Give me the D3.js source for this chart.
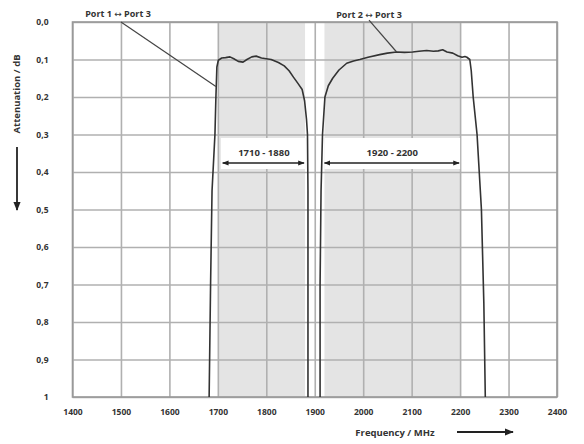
<!DOCTYPE html>
<html>
<head>
<meta charset="utf-8">
<script src="https://cdn.jsdelivr.net/npm/d3@7"></script>
<style>
  html, body { margin: 0; padding: 0; background: #fff; }
  svg { display: block; }
  text { font-family: "Open Sans", "Liberation Sans", sans-serif; fill: #333; }
</style>
</head>
<body>
<svg id="chart" width="584" height="444"></svg>
<script>
// ---- data ----
const xTicks = [1400, 1500, 1600, 1700, 1800, 1900, 2000, 2100, 2200, 2300, 2400];
const yTicks = [0, 0.1, 0.2, 0.3, 0.4, 0.5, 0.6, 0.7, 0.8, 0.9, 1];
const yTickLabels = ["0,0", "0,1", "0,2", "0,3", "0,4", "0,5", "0,6", "0,7", "0,8", "0,9", "1"];
const bandStart = [1700, 1920];
const bandEnd = [1880, 2200];
const bandLabelStart = [1710, 1920];
const bandLabelEnd = [1880, 2200];
const port13Freq = [1682, 1685, 1688, 1694, 1696, 1698, 1701, 1708, 1716, 1725, 1733, 1742, 1752, 1760, 1770, 1779, 1790, 1800, 1810, 1825, 1837, 1847, 1856, 1866, 1874, 1879, 1883, 1885, 1886, 1886, 1886];
const port13Att = [1.0, 0.7, 0.45, 0.3, 0.2, 0.12, 0.102, 0.096, 0.095, 0.093, 0.098, 0.105, 0.107, 0.1, 0.093, 0.091, 0.096, 0.098, 0.1, 0.108, 0.117, 0.13, 0.147, 0.165, 0.18, 0.21, 0.26, 0.3, 0.45, 0.7, 1.0];
const port23Freq = [1911, 1911, 1913, 1916, 1921, 1928, 1937, 1950, 1966, 1980, 1993, 2010, 2034, 2050, 2069, 2085, 2102, 2115, 2131, 2145, 2155, 2164, 2173, 2185, 2195, 2204, 2210, 2214, 2220, 2223, 2227, 2235, 2244, 2249, 2252];
const port23Att = [1.0, 0.7, 0.45, 0.3, 0.2, 0.17, 0.15, 0.128, 0.11, 0.104, 0.1, 0.094, 0.087, 0.083, 0.08, 0.081, 0.08, 0.078, 0.076, 0.078, 0.077, 0.074, 0.08, 0.083, 0.09, 0.094, 0.092, 0.094, 0.1, 0.13, 0.2, 0.3, 0.5, 0.75, 1.0];
const seriesPortA = ["Port 1", "Port 2"];
const seriesPortB = ["Port 3", "Port 3"];
// leader line anchors
const leaderFrom = [[1500, 0.0], [2012, -0.005]];
const leaderTo = [[1696, 0.172], [2069, 0.08]];

// ---- layout ----
const svg = d3.select("#chart");
const x = d3.scaleLinear().domain([1400, 2400]).range([72.5, 557]);
const y = d3.scaleLinear().domain([0, 1]).range([22, 397]);

const defs = svg.append("defs");
defs.append("marker").attr("id", "arr")
  .attr("viewBox", "0 0 10 10").attr("refX", 9).attr("refY", 5)
  .attr("markerWidth", 5).attr("markerHeight", 5).attr("orient", "auto-start-reverse")
  .append("path").attr("d", "M0,1 L10,5 L0,9 Z").attr("fill", "#222");

// shading bands
svg.append("g").selectAll("rect").data(bandStart).join("rect")
  .attr("x", (d) => x(d)).attr("y", y(0))
  .attr("width", (d, i) => x(bandEnd[i]) - x(d))
  .attr("height", y(1) - y(0))
  .attr("fill", "#e4e4e4");

// grid via axes
const gx = svg.append("g").attr("transform", `translate(0,${y(1)})`)
  .call(d3.axisBottom(x).tickValues(xTicks).tickSize(-(y(1) - y(0))).tickFormat(d3.format("d")).tickPadding(12));
const gy = svg.append("g").attr("transform", `translate(${x(1400)},0)`)
  .call(d3.axisLeft(y).tickValues(yTicks).tickSize(-(x(2400) - x(1400))).tickFormat((d, i) => yTickLabels[i]).tickPadding(24));
[gx, gy].forEach(g => {
  g.select(".domain").remove();
  g.selectAll(".tick line").attr("stroke", "#b0b0b0").attr("stroke-width", 1.6);
  g.selectAll(".tick text").attr("font-size", 8.5).attr("font-weight", 700).attr("fill", "#444")
    .style("font-family", "'Open Sans', sans-serif");
});

// border
svg.append("rect").attr("x", x(1400)).attr("y", y(0))
  .attr("width", x(2400) - x(1400)).attr("height", y(1) - y(0))
  .attr("fill", "none").attr("stroke", "#999").attr("stroke-width", 1.6);

// band annotation boxes
const ann = svg.append("g");
bandLabelStart.forEach((s, i) => {
  const e = bandLabelEnd[i];
  const bx0 = x(bandStart[i]) + (i === 0 ? 3 : 0), bx1 = x(bandEnd[i]);
  ann.append("rect").attr("x", bx0).attr("y", 138).attr("width", bx1 - bx0).attr("height", 31).attr("fill", "#fff");
  ann.append("text").attr("x", (x(s) + x(e)) / 2).attr("y", 156).attr("text-anchor", "middle")
    .attr("font-size", 9.5).attr("font-weight", 700).text(s + " - " + e);
  ann.append("line").attr("x1", x(s)).attr("x2", x(e) - 1).attr("y1", 163).attr("y2", 163)
    .attr("stroke", "#222").attr("stroke-width", 1.3)
    .attr("marker-start", "url(#arr)").attr("marker-end", "url(#arr)");
});

// curves
const lineL = d3.line().x(d => x(d[0])).y(d => y(d[1])).curve(d3.curveLinear);
const s1 = port13Freq.map((f, i) => [f, port13Att[i]]);
const s2 = port23Freq.map((f, i) => [f, port23Att[i]]);
[s1, s2].forEach(s => {
  svg.append("path").datum(s).attr("d", lineL)
    .attr("fill", "none").attr("stroke", "#333").attr("stroke-width", 1.6).attr("stroke-linejoin", "round");
});

// leaders and series labels
leaderFrom.forEach((p, i) => {
  svg.append("line").attr("x1", x(p[0])).attr("y1", y(p[1]))
    .attr("x2", x(leaderTo[i][0])).attr("y2", y(leaderTo[i][1]))
    .attr("stroke", "#444").attr("stroke-width", 1.2);
});
const labelPos = [[118, 17], [369, 18]];
labelPos.forEach((p, i) => {
  const t = svg.append("text").attr("x", p[0]).attr("y", p[1]).attr("text-anchor", "middle")
    .attr("font-size", 9).attr("font-weight", 700);
  t.append("tspan").text(seriesPortA[i] + " ");
  t.append("tspan").style("font-family", "'DejaVu Sans', sans-serif").attr("font-weight", 400).text("\u2194");
  t.append("tspan").text(" " + seriesPortB[i]);
});

// axis titles with arrows
svg.append("text").attr("transform", "translate(20,94) rotate(-90)").attr("text-anchor", "middle")
  .attr("font-size", 9.5).attr("font-weight", 700).text("Attenuation / dB");
svg.append("line").attr("x1", 17).attr("x2", 17).attr("y1", 147).attr("y2", 210)
  .attr("stroke", "#222").attr("stroke-width", 1.8).attr("marker-end", "url(#arr)");
svg.append("text").attr("x", 395).attr("y", 436).attr("text-anchor", "middle")
  .attr("font-size", 9.5).attr("font-weight", 700).text("Frequency / MHz");
svg.append("line").attr("x1", 457).attr("x2", 513).attr("y1", 432).attr("y2", 432)
  .attr("stroke", "#222").attr("stroke-width", 1.8).attr("marker-end", "url(#arr)");
</script>
</body>
</html>
